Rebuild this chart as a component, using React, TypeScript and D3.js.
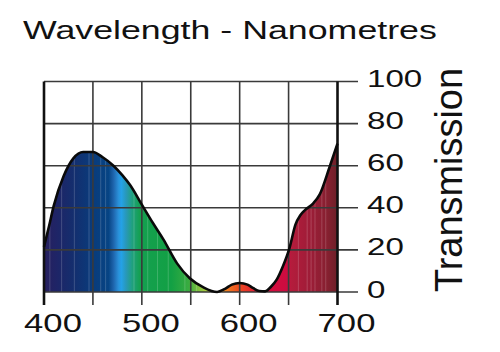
import React from "react";
import * as d3 from "d3";

const wavelengths = [400, 405, 410, 420, 430, 440, 450, 460, 471, 480, 488, 500, 511, 522, 536, 549, 563, 577, 585, 592, 600, 608, 614, 620, 626, 632, 638, 644, 651, 657, 662, 667, 675, 682, 692, 700];
const transmission = [21.5, 31, 41, 55, 63.5, 66.5, 66.5, 64, 60, 55.5, 50.8, 41.5, 33, 25, 13.6, 6.5, 2.2, 0, 1.5, 3.5, 4.3, 3.5, 1.8, 0.5, 0.3, 2.5, 6, 12, 21, 32, 36.5, 39, 42, 46.5, 59.5, 70.5];

const xTicks = [400, 450, 500, 550, 600, 650, 700];
const xLabels = [400, 500, 600, 700];
const yTicks = [0, 20, 40, 60, 80, 100];

const spectrumStops: [number, string][] = [
  [400, "#28205e"],
  [412, "#1f2466"],
  [430, "#142e6e"],
  [448, "#0a3a7a"],
  [466, "#064484"],
  [471, "#1e64ac"],
  [476, "#2a8fd8"],
  [479, "#24a2e8"],
  [484, "#2898b8"],
  [490, "#20a080"],
  [498, "#14a050"],
  [530, "#12a044"],
  [548, "#3aac40"],
  [558, "#80c040"],
  [568, "#b8d040"],
  [578, "#f0b020"],
  [588, "#f07820"],
  [600, "#ec4a20"],
  [612, "#e42830"],
  [625, "#d80c3c"],
  [648, "#cc0c40"],
  [653, "#b41c3c"],
  [670, "#a01c38"],
  [690, "#862030"],
  [700, "#6c2028"],
];

const stripeWavelengths = [406, 418, 431, 446, 458, 463, 492, 506, 516, 527, 544, 556, 660, 669, 673, 677, 684, 688];

export default function App() {
  const W = 500, H = 352;
  const x = d3.scaleLinear().domain([400, 700]).range([44, 337.5]);
  const y = d3.scaleLinear().domain([0, 100]).range([292, 81.5]);
  const data = wavelengths.map((w, i) => ({ w, t: transmission[i] }));

  const area = d3.area<{ w: number; t: number }>()
    .x(d => x(d.w))
    .y0(y(0))
    .y1(d => y(d.t))
    .curve(d3.curveMonotoneX);
  const line = d3.line<{ w: number; t: number }>()
    .x(d => x(d.w))
    .y(d => y(d.t))
    .curve(d3.curveMonotoneX);

  const gridColor = "#3a3a3a";
  const font = "'Liberation Sans', Arial, Helvetica, sans-serif";
  const right = 358;

  return (
    <svg width={W} height={H} style={{ position: "absolute", left: 0, top: 0, background: "#fff" }}>
      <defs>
        <linearGradient id="spec" gradientUnits="userSpaceOnUse" x1={x(400)} x2={x(700)} y1={0} y2={0}>
          {spectrumStops.map(([w, c], i) => (
            <stop key={i} offset={(w - 400) / 300} stopColor={c} />
          ))}
        </linearGradient>
        <clipPath id="areaClip">
          <path d={area(data) || ""} />
        </clipPath>
      </defs>

      <text transform="translate(23,39) scale(1.375,1)" fontFamily={font} fontSize={26} fill="#111">
        Wavelength - Nanometres
      </text>

      <path d={area(data) || ""} fill="url(#spec)" />
      <g clipPath="url(#areaClip)">
        {stripeWavelengths.map((w, i) => (
          <line key={i} x1={x(w)} x2={x(w)} y1={y(100)} y2={y(0)} stroke="#fff" strokeOpacity={0.18} strokeWidth={1} />
        ))}
      </g>

      {yTicks.map(v => (
        <line key={"h" + v} x1={x(400)} x2={right} y1={y(v)} y2={y(v)} stroke={gridColor} strokeWidth={1.6} />
      ))}
      {xTicks.map(v => (
        <line key={"v" + v} x1={x(v)} x2={x(v)} y1={y(100)} y2={305}
          stroke={v === 400 || v === 700 ? "#111" : gridColor}
          strokeWidth={v === 400 || v === 700 ? 2.6 : 1.6} />
      ))}

      <path d={line(data) || ""} fill="none" stroke="#0a0a0a" strokeWidth={2.6} strokeLinejoin="round" />

      {yTicks.map(v => (
        <text key={"yl" + v} transform={`translate(367,${y(v) + 5.5}) scale(1.44,1)`} fontFamily={font} fontSize={23} fill="#111">{v}</text>
      ))}
      {xLabels.map(v => (
        <text key={"xl" + v} transform={`translate(${x(v) + 9},332) scale(1.36,1)`} fontFamily={font} fontSize={25.5} textAnchor="middle" fill="#111">{v}</text>
      ))}

      <text transform="translate(462,292) rotate(-90)" fontFamily={font} fontSize={38}
        textLength={224} lengthAdjust="spacingAndGlyphs" fill="#111">Transmission</text>
    </svg>
  );
}
